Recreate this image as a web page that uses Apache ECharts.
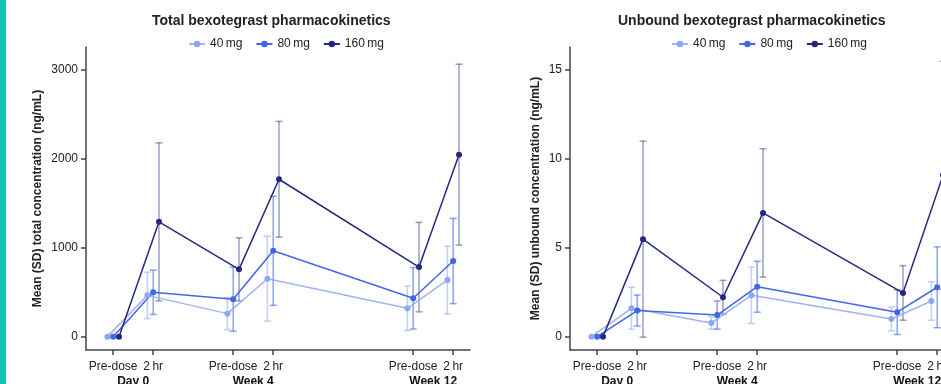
<!DOCTYPE html>
<html>
<head>
<meta charset="utf-8">
<script src="https://cdn.jsdelivr.net/npm/echarts@6/dist/echarts.min.js"></script>
<style>
html,body{margin:0;padding:0;background:#fff;}
#chart{width:941px;height:384px;}
</style>
</head>
<body>
<div id="chart"></div>
<script>
// ---- data ----
const timeLabels = ['Pre-dose', '2\u2009hr', 'Pre-dose', '2\u2009hr', 'Pre-dose', '2\u2009hr'];
const visitLabels = ['Day 0', 'Week 4', 'Week 12'];
const doses = ['40\u2009mg', '80\u2009mg', '160\u2009mg'];
const yTicksTotal = [0, 1000, 2000, 3000];
const yTicksUnbound = [0, 5, 10, 15];

const total40 = [0, 463, 258, 650, 318, 635];
const total40sd = [0, 260, 180, 476, 250, 380];
const total80 = [0, 497, 419, 963, 430, 848];
const total80sd = [0, 248, 359, 612, 345, 478];
const total160 = [0, 1288, 755, 1766, 780, 2042];
const total160sd = [0, 887, 354, 650, 502, 1015];

const unb40 = [0, 1.59, 0.77, 2.32, 0.99, 2.00];
const unb40sd = [0, 1.18, 0.35, 1.58, 0.67, 1.08];
const unb80 = [0, 1.46, 1.21, 2.80, 1.37, 2.77];
const unb80sd = [0, 0.87, 0.79, 1.43, 1.25, 2.27];
const unb160 = [0, 5.47, 2.21, 6.94, 2.45, 9.05];
const unb160sd = [0, 5.5, 0.95, 3.6, 1.53, 6.4];

// ---- layout (not data) ----
const xPos = [0, 1, 3, 4, 7.5, 8.5];
const visitPos = [0.5, 3.5, 8];
const dodge = [-0.145, 0, 0.145];
const colors = ['#8ea7f3', '#4266e8', '#25287f'];
const errColors = ['rgba(142,167,243,0.55)', 'rgba(66,102,232,0.6)', 'rgba(37,40,127,0.45)'];
const FONT = '"Liberation Sans", Arial, sans-serif';

const chart = echarts.init(document.getElementById('chart'), null, {renderer: 'canvas'});

function lineData(vals, k) {
  return vals.map((v, i) => [xPos[i] + dodge[k], v]);
}
function errData(vals, sds, k) {
  const out = [];
  vals.forEach((v, i) => { if (sds[i] > 0) out.push([xPos[i] + dodge[k], v - sds[i], v + sds[i]]); });
  return out;
}
function errSeries(name, vals, sds, k, gi) {
  const col = errColors[k];
  return {
    type: 'custom', name: name + ' SD', xAxisIndex: gi * 2, yAxisIndex: gi, z: 1,
    silent: true,
    encode: {x: 0, y: [1, 2]},
    data: errData(vals, sds, k),
    renderItem: function (params, api) {
      const x = api.value(0);
      const top = api.coord([x, api.value(2)]);
      const bot = api.coord([x, api.value(1)]);
      const hw = 3.5;
      const st = {stroke: col, lineWidth: 1.5};
      return {type: 'group', children: [
        {type: 'line', shape: {x1: top[0], y1: top[1], x2: bot[0], y2: bot[1]}, style: st},
        {type: 'line', shape: {x1: top[0] - hw, y1: top[1], x2: top[0] + hw, y2: top[1]}, style: st},
        {type: 'line', shape: {x1: bot[0] - hw, y1: bot[1], x2: bot[0] + hw, y2: bot[1]}, style: st}
      ]};
    }
  };
}
function lineSeries(name, vals, k, gi) {
  return {
    type: 'line', name: name, xAxisIndex: gi * 2, yAxisIndex: gi, z: 3,
    data: lineData(vals, k),
    symbol: 'circle', symbolSize: 6,
    itemStyle: {color: colors[k]},
    lineStyle: {color: colors[k], width: 1.5, opacity: k === 0 ? 0.85 : 1},
    emphasis: {disabled: true}
  };
}

const axisLineStyle = {show: true, onZero: false, lineStyle: {color: '#444', width: 1.5}};
function xAxes(gi) {
  return [{
    type: 'value', gridIndex: gi, min: -0.68, max: 8.92, position: 'bottom',
    axisLine: axisLineStyle,
    axisTick: {show: true, length: 5, customValues: xPos, lineStyle: {color: '#444', width: 1.5}},
    axisLabel: {customValues: xPos, margin: 11, fontSize: 12, color: '#222', fontFamily: FONT,
      formatter: v => { const i = xPos.findIndex(p => Math.abs(p - v) < 1e-6); return i >= 0 ? timeLabels[i] : ''; }},
    splitLine: {show: false}
  }, {
    type: 'value', gridIndex: gi, min: -0.68, max: 8.92, position: 'bottom',
    axisLine: {show: false, onZero: false}, axisTick: {show: false},
    axisLabel: {customValues: visitPos, margin: 26, fontSize: 12, fontWeight: 'bold', color: '#111', fontFamily: FONT,
      formatter: v => { const i = visitPos.findIndex(p => Math.abs(p - v) < 1e-6); return i >= 0 ? visitLabels[i] : ''; }},
    splitLine: {show: false}
  }];
}
function yAxis(gi, min, max, ticks, name, gap) {
  return {
    type: 'value', gridIndex: gi, min: min, max: max,
    name: name, nameLocation: 'middle', nameGap: gap,
    nameTextStyle: {fontSize: 12, fontWeight: 'bold', color: '#222', fontFamily: FONT},
    axisLine: axisLineStyle,
    axisTick: {show: true, length: 5, customValues: ticks, lineStyle: {color: '#444', width: 1.5}},
    axisLabel: {customValues: ticks, margin: 8, fontSize: 12, color: '#222', fontFamily: FONT,
      formatter: v => String(v)},
    splitLine: {show: false}
  };
}

const legendCommon = {
  data: doses, top: 33, itemWidth: 16, itemHeight: 8, itemGap: 13,
  textStyle: {fontSize: 12, color: '#222', fontFamily: FONT},
  selectedMode: false
};

const option = {
  animation: false,
  backgroundColor: '#fff',
  title: [
    {text: 'Total bexotegrast pharmacokinetics', left: 147, top: 9,
      textStyle: {fontSize: 14, fontWeight: 'bold', color: '#222', fontFamily: FONT}},
    {text: 'Unbound bexotegrast pharmacokinetics', left: 613, top: 9,
      textStyle: {fontSize: 14, fontWeight: 'bold', color: '#222', fontFamily: FONT}}
  ],
  legend: [
    Object.assign({left: 183}, legendCommon),
    Object.assign({left: 666}, legendCommon)
  ],
  grid: [
    {left: 86, top: 47, width: 384, height: 303, outerBoundsMode: 'none', containLabel: false},
    {left: 570, top: 47, width: 384, height: 303, outerBoundsMode: 'none', containLabel: false}
  ],
  xAxis: xAxes(0).concat(xAxes(1)),
  yAxis: [
    yAxis(0, -150, 3250, yTicksTotal, 'Mean (SD) total concentration (ng/mL)', 42),
    yAxis(1, -0.75, 16.25, yTicksUnbound, 'Mean (SD) unbound concentration (ng/mL)', 28)
  ],
  graphic: [
    {type: 'rect', left: 0, top: 0, shape: {x: 0, y: 0, width: 6, height: 384}, style: {fill: '#12c1b0'}, z: 10}
  ],
  series: [
    errSeries(doses[0], total40, total40sd, 0, 0),
    errSeries(doses[1], total80, total80sd, 1, 0),
    errSeries(doses[2], total160, total160sd, 2, 0),
    lineSeries(doses[0], total40, 0, 0),
    lineSeries(doses[1], total80, 1, 0),
    lineSeries(doses[2], total160, 2, 0),
    errSeries(doses[0], unb40, unb40sd, 0, 1),
    errSeries(doses[1], unb80, unb80sd, 1, 1),
    errSeries(doses[2], unb160, unb160sd, 2, 1),
    lineSeries(doses[0], unb40, 0, 1),
    lineSeries(doses[1], unb80, 1, 1),
    lineSeries(doses[2], unb160, 2, 1)
  ]
};
chart.setOption(option);
</script>
</body>
</html>
